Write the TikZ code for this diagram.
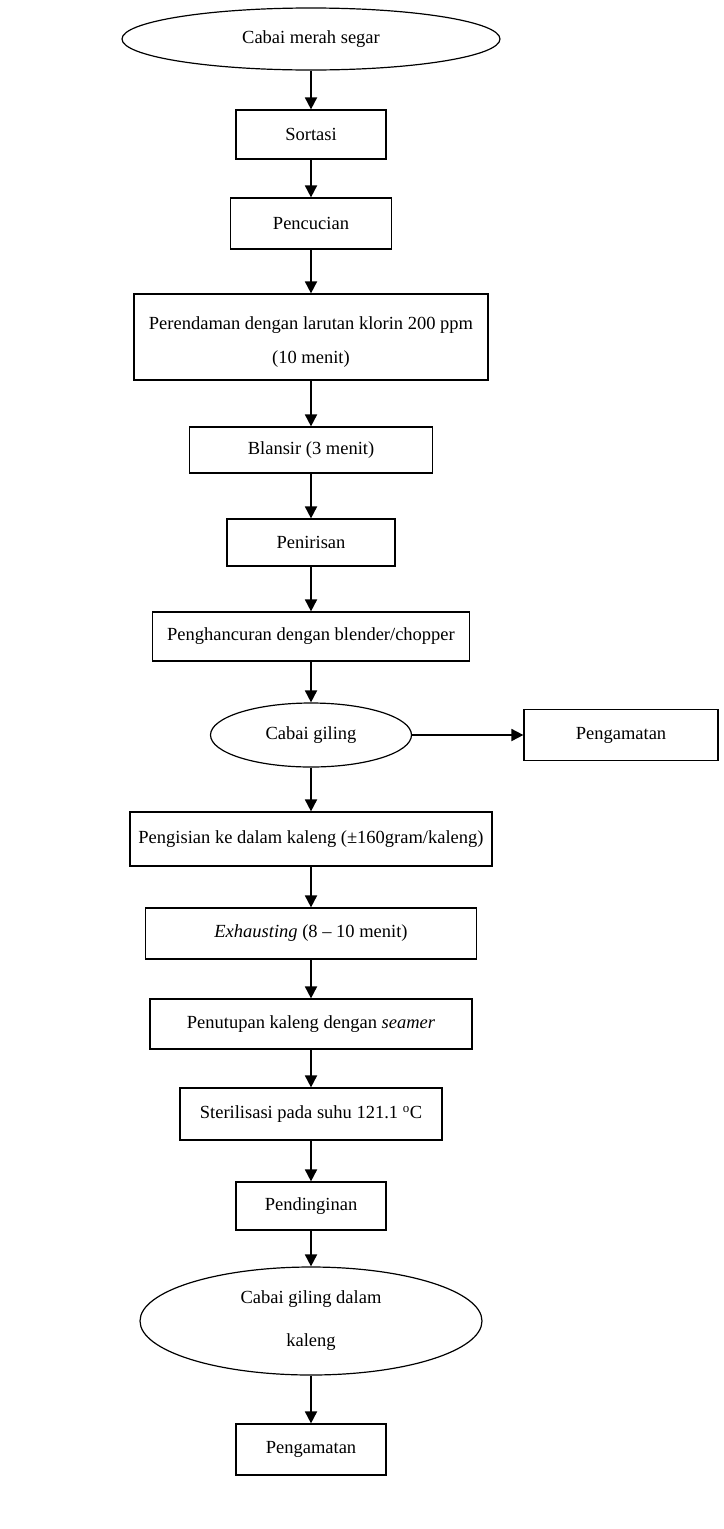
\documentclass[tikz,border=0pt]{standalone}
\usepackage{fontspec}
\setmainfont{Liberation Serif}
\usetikzlibrary{shapes.geometric,arrows.meta}

\tikzset{
  proc/.style={draw, rectangle, line width=1.2pt, inner sep=0pt, align=center,
    font=\fontsize{18.5}{34}\selectfont},
  term/.style={draw, ellipse, line width=1.2pt, inner sep=0pt, align=center,
    font=\fontsize{18.5}{34}\selectfont},
  arr/.style={line width=1.8pt, -{Triangle[length=12pt,width=12pt]}}
}

\begin{document}
\begin{tikzpicture}[x=1pt,y=-1pt]
    \useasboundingbox (0,0) rectangle (723,1529);

    \node[term, minimum width=378pt, minimum height=62pt] (segar) at (311,39) {Cabai merah segar};
    \node[proc, minimum width=150pt, minimum height=49pt] (sortasi) at (311,134.5) {Sortasi};
    \node[proc, minimum width=161pt, minimum height=51pt] (cuci) at (311,223.5) {Pencucian};
    \node[proc, minimum width=354pt, minimum height=86pt] (rendam) at (311,337)
        {\rule{0pt}{23pt}Perendaman dengan larutan klorin 200 ppm\\(10 menit)};
    \node[proc, minimum width=243pt, minimum height=46pt] (blansir) at (311,450) {Blansir (3 menit)};
    \node[proc, minimum width=168pt, minimum height=47pt] (tiris) at (311,542.5) {Penirisan};
    \node[proc, minimum width=317pt, minimum height=49pt] (hancur) at (311,636.5)
        {Penghancuran dengan blender/chopper};
    \node[term, minimum width=201pt, minimum height=64pt] (giling) at (311,735) {Cabai giling};
    \node[proc, minimum width=194pt, minimum height=51pt] (amatA) at (621,735) {Pengamatan};
    \node[proc, minimum width=362pt, minimum height=54pt] (isi) at (311,839)
        {Pengisian ke dalam kaleng (±160gram/kaleng)};
    \node[proc, minimum width=331pt, minimum height=51pt] (exhaust) at (311,933.5)
        {\textit{Exhausting} (8 -- 10 menit)};
    \node[proc, minimum width=322pt, minimum height=50pt] (tutup) at (311,1024)
        {Penutupan kaleng dengan \textit{seamer}};
    \node[proc, minimum width=262pt, minimum height=52pt] (steril) at (311,1114)
        {Sterilisasi pada suhu 121.1 \textsuperscript{o}C};
    \node[proc, minimum width=150pt, minimum height=48pt] (dingin) at (311,1206) {Pendinginan};
    \node[term, minimum width=342pt, minimum height=108pt] (kaleng) at (311,1321)
        {Cabai giling dalam\\[9pt]kaleng};
    \node[proc, minimum width=150pt, minimum height=51pt] (amatB) at (311,1449.5) {Pengamatan};

    % alur proses
    \foreach \a/\b in {segar/sortasi, sortasi/cuci, cuci/rendam, rendam/blansir,
        blansir/tiris, tiris/hancur, hancur/giling, giling/isi, isi/exhaust,
        exhaust/tutup, tutup/steril, steril/dingin, dingin/kaleng, kaleng/amatB} {
        \draw[arr] (\a) -- (\b);
    }
    \draw[arr] (giling) -- (amatA);
\end{tikzpicture}
\end{document}
